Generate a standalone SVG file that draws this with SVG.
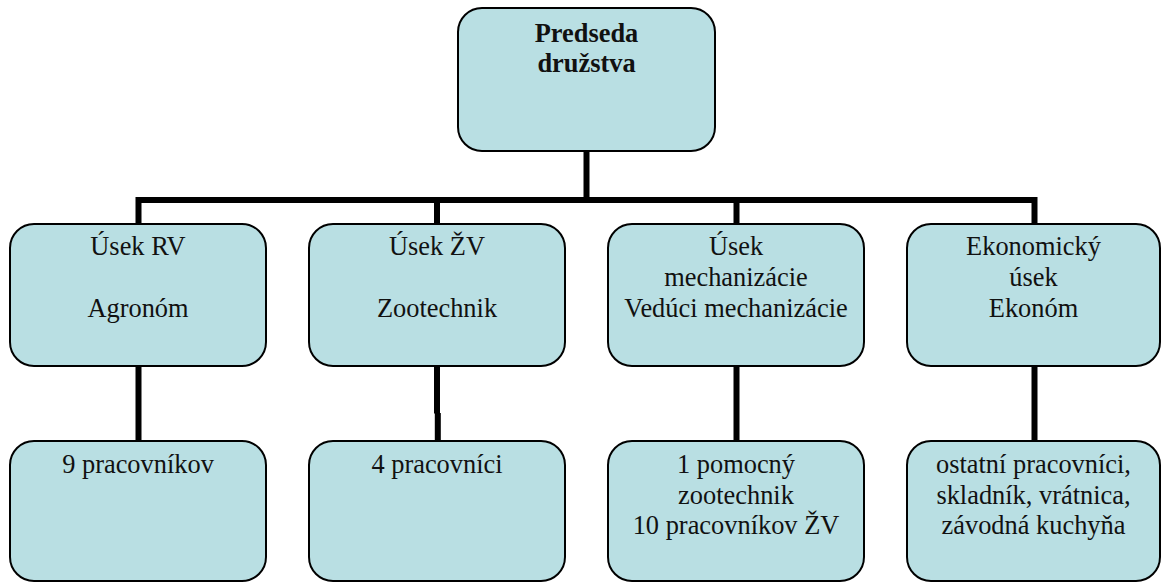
<svg xmlns="http://www.w3.org/2000/svg" width="1166" height="583" viewBox="0 0 1166 583">
<style>
.box{fill:#B9DFE3;stroke:#000;stroke-width:2}
.con{fill:none;stroke:#000;stroke-width:6;stroke-linecap:butt;stroke-linejoin:miter}
</style>
<rect width="1166" height="583" fill="#fff"/>
<g id="connectors">
<path class="con" d="M586.5 151V200"/>
<path class="con" d="M138.5 224V200H1034.5V224"/>
<path class="con" d="M437 200V224M736.5 200V224"/>
<path class="con" d="M138.5 366V441M437 366V413.5M437.8 413V441M736.5 366V441M1034.5 366V441"/>
</g>
<g font-family="'Liberation Serif'" font-size="26.4" fill="#111" text-anchor="middle">
<g id="n-predseda">
<rect class="box" x="458" y="8" width="257" height="143" rx="24"/>
<text font-weight="bold" x="586.5" y="42">Predseda</text>
<text font-weight="bold" x="586.5" y="72">družstva</text>
</g>
<g id="n-rv">
<rect class="box" x="10" y="224" width="256" height="142" rx="24"/>
<text x="138" y="255">Úsek RV</text>
<text x="138" y="317">Agronóm</text>
</g>
<g id="n-zv">
<rect class="box" x="309" y="224" width="256" height="142" rx="24"/>
<text x="437" y="255">Úsek ŽV</text>
<text x="437" y="317">Zootechnik</text>
</g>
<g id="n-mech">
<rect class="box" x="608" y="224" width="256" height="142" rx="24"/>
<text x="736" y="255">Úsek</text>
<text x="736" y="286">mechanizácie</text>
<text x="736" y="317">Vedúci mechanizácie</text>
</g>
<g id="n-ekon">
<rect class="box" x="907" y="224" width="253" height="142" rx="24"/>
<text x="1033.5" y="255">Ekonomický</text>
<text x="1033.5" y="286">úsek</text>
<text x="1033.5" y="317">Ekonóm</text>
</g>
<g id="n-rv-prac">
<rect class="box" x="10" y="441" width="256" height="140" rx="24"/>
<text x="138" y="473">9 pracovníkov</text>
</g>
<g id="n-zv-prac">
<rect class="box" x="309" y="441" width="256" height="140" rx="24"/>
<text x="437" y="473">4 pracovníci</text>
</g>
<g id="n-mech-prac">
<rect class="box" x="608" y="441" width="256" height="140" rx="24"/>
<text x="736" y="473">1 pomocný</text>
<text x="736" y="503.5">zootechnik</text>
<text x="736" y="534">10 pracovníkov ŽV</text>
</g>
<g id="n-ekon-prac">
<rect class="box" x="907" y="441" width="253" height="140" rx="24"/>
<text x="1033.5" y="473">ostatní pracovníci,</text>
<text x="1033.5" y="503.5">skladník, vrátnica,</text>
<text x="1033.5" y="534">závodná kuchyňa</text>
</g>
</g>
</svg>
